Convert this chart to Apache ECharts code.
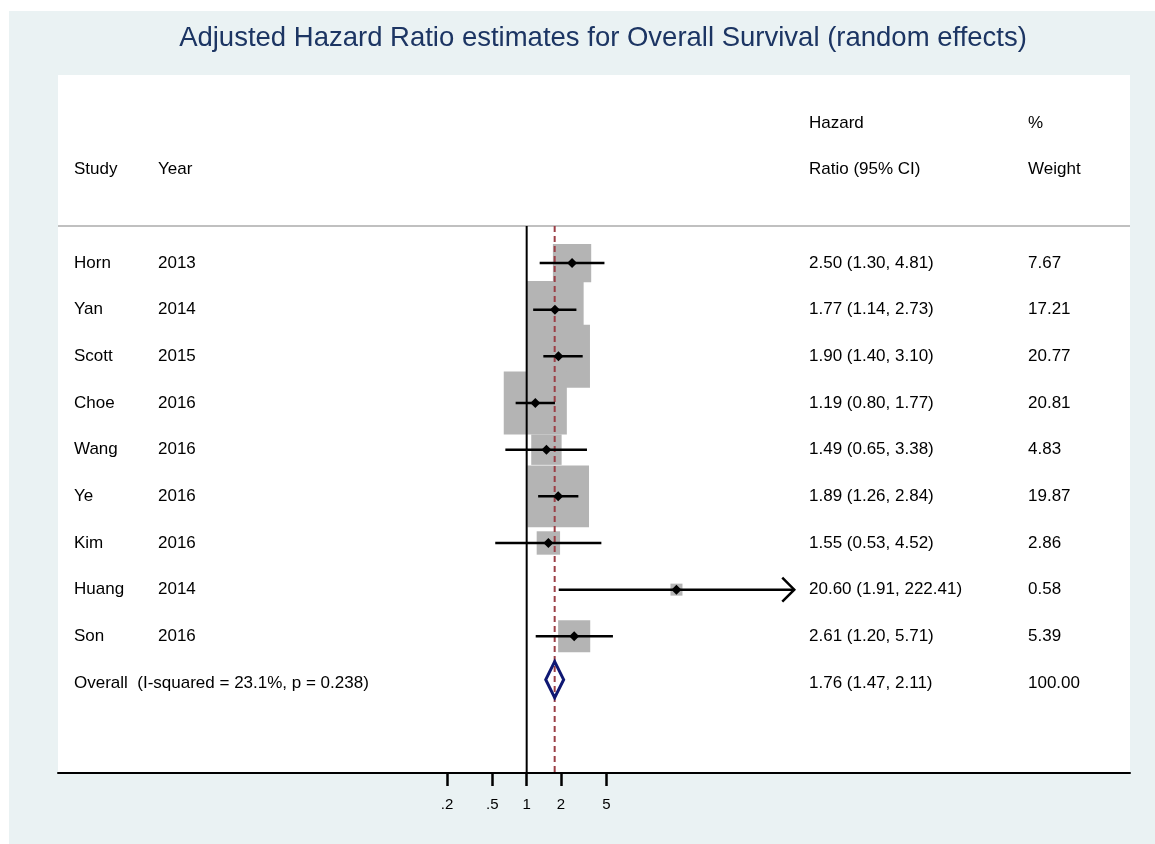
<!DOCTYPE html>
<html>
<head>
<meta charset="utf-8">
<script src="https://cdn.jsdelivr.net/npm/echarts@6/dist/echarts.min.js"></script>
<style>
  html, body { margin: 0; padding: 0; background: #fff; }
  #chart { width: 1155px; height: 844px; }
</style>
</head>
<body>
<div id="chart"></div>
<script>
// study rows
const studies = ['Horn', 'Yan', 'Scott', 'Choe', 'Wang', 'Ye', 'Kim', 'Huang', 'Son'];
const years = [2013, 2014, 2015, 2016, 2016, 2016, 2016, 2014, 2016];
const hr = [2.50, 1.77, 1.90, 1.19, 1.49, 1.89, 1.55, 20.60, 2.61];
const ciLow = [1.30, 1.14, 1.40, 0.80, 0.65, 1.26, 0.53, 1.91, 1.20];
const ciHigh = [4.81, 2.73, 3.10, 1.77, 3.38, 2.84, 4.52, 222.41, 5.71];
const weights = [7.67, 17.21, 20.77, 20.81, 4.83, 19.87, 2.86, 0.58, 5.39];

// pooled estimate
const overallLabel = 'Overall  (I-squared = 23.1%, p = 0.238)';
const overallHr = 1.76;
const overallLow = 1.47;
const overallHigh = 2.11;
const overallWeight = 100.00;

// axis ticks
const tickValues = [0.2, 0.5, 1, 2, 5];
const tickLabels = ['.2', '.5', '1', '2', '5'];

const FONT = '"Liberation Sans", Arial, sans-serif';
const lg = v => Math.log10(v);
const rows = studies.map((s, i) => i + 1);
const overallRow = studies.length + 1;
const sepRow = 0.207;
const yMax = 11.93;

// table text positions (px)
const colStudy = 74, colYear = 158, colHr = 809, colWeight = 1028;

const tableRows = studies.map((s, i) => [
  s, String(years[i]),
  hr[i].toFixed(2) + ' (' + ciLow[i].toFixed(2) + ', ' + ciHigh[i].toFixed(2) + ')',
  weights[i].toFixed(2), i + 1
]);
tableRows.push([overallLabel, '',
  overallHr.toFixed(2) + ' (' + overallLow.toFixed(2) + ', ' + overallHigh.toFixed(2) + ')',
  overallWeight.toFixed(2), overallRow]);

const headerRows = [
  ['', '', 'Hazard', '%', -2],
  ['Study', 'Year', 'Ratio (95% CI)', 'Weight', -1]
];
const allRows = tableRows.concat(headerRows);

function txt(str, x, y) {
  return {
    type: 'text',
    style: { text: str, x: x, y: y, font: '17px ' + FONT, fill: '#000', textVerticalAlign: 'middle' }
  };
}

const chart = echarts.init(document.getElementById('chart'));

const option = {
  backgroundColor: '#fff',
  animation: false,
  graphic: [{
    type: 'rect', z: -10, silent: true,
    shape: { x: 9, y: 11, width: 1146, height: 833 },
    style: { fill: '#eaf2f3' }
  }],
  title: {
    text: 'Adjusted Hazard Ratio estimates for Overall Survival (random effects)',
    left: 598, top: 19, textAlign: 'center',
    textStyle: { fontFamily: FONT, fontSize: 27.5, fontWeight: 'normal', color: '#1c3563' }
  },
  grid: {
    left: 58, right: 25, top: 75, bottom: 71,
    show: true, backgroundColor: '#fff', borderWidth: 0
  },
  xAxis: {
    type: 'value',
    min: -4.111, max: 5.292,
    splitLine: { show: false },
    axisLine: { onZero: false, lineStyle: { color: '#000', width: 2 } },
    axisTick: { customValues: tickValues.map(lg), length: 13, lineStyle: { color: '#000', width: 2.5 } },
    axisLabel: {
      customValues: tickValues.map(lg),
      formatter: v => tickLabels[tickValues.findIndex(t => Math.abs(lg(t) - v) < 1e-6)] || '',
      margin: 24, fontFamily: FONT, fontSize: 15, color: '#000'
    }
  },
  yAxis: { type: 'value', inverse: true, min: -3.03, max: yMax, show: false },
  series: [
    {
      // header separator
      type: 'line', silent: true, symbol: 'none',
      data: [[-4.111, sepRow], [5.292, sepRow]],
      lineStyle: { color: '#c0c0c0', width: 2 }
    },
    {
      // null line
      type: 'line', silent: true, symbol: 'none',
      data: [[lg(1), sepRow], [lg(1), yMax]],
      lineStyle: { color: '#000', width: 2 }, z: 3
    },
    {
      // weight boxes
      type: 'scatter', symbol: 'rect', silent: true,
      data: hr.map((v, i) => [lg(v), rows[i], weights[i]]),
      symbolSize: d => Math.max(12, 13.83 * Math.sqrt(d[2])),
      itemStyle: { color: '#b4b4b4', opacity: 1 }, z: 2
    },
    {
      // pooled line
      type: 'line', silent: true, symbol: 'none',
      data: [[lg(overallHr), sepRow], [lg(overallHr), yMax]],
      lineStyle: { color: '#9b3f46', width: 2, type: [6, 4] }, z: 4
    },
    {
      // confidence intervals
      type: 'custom', silent: true, clip: false, z: 5,
      data: ciLow.map((v, i) => [lg(v), lg(ciHigh[i]), rows[i]]),
      renderItem: (params, api) => {
        const a = api.coord([api.value(0), api.value(2)]);
        const b = api.coord([api.value(1), api.value(2)]);
        const children = [{
          type: 'line', shape: { x1: a[0], y1: a[1], x2: b[0], y2: b[1] },
          style: { stroke: '#000', lineWidth: 2.5 }
        }];
        if (api.value(1) > 2) {
          children.push({
            type: 'polyline',
            shape: { points: [[b[0] - 12, b[1] - 12], [b[0], b[1]], [b[0] - 12, b[1] + 12]] },
            style: { stroke: '#000', lineWidth: 2.5, fill: 'none' }
          });
        }
        return { type: 'group', children: children };
      }
    },
    {
      // point estimates
      type: 'scatter', symbol: 'diamond', symbolSize: 10, silent: true, z: 6,
      data: hr.map((v, i) => [lg(v), rows[i]]),
      itemStyle: { color: '#000', opacity: 1 }
    },
    {
      // overall diamond
      type: 'custom', silent: true, z: 6,
      data: [[lg(overallLow), lg(overallHr), lg(overallHigh), overallRow - 0.07]],
      renderItem: (params, api) => {
        const y = api.value(3);
        const l = api.coord([api.value(0), y]);
        const m = api.coord([api.value(1), y]);
        const r = api.coord([api.value(2), y]);
        return {
          type: 'polygon',
          shape: { points: [l, [m[0], m[1] - 18], r, [m[0], m[1] + 18]] },
          style: { stroke: '#0f1873', lineWidth: 3, fill: 'none' }
        };
      }
    },
    {
      // table text
      type: 'custom', silent: true, clip: false, z: 7,
      data: allRows.map(r => [0, r[4]]),
      renderItem: (params, api) => {
        const r = allRows[params.dataIndex];
        const y = api.coord([0, api.value(1)])[1];
        return {
          type: 'group',
          children: [txt(r[0], colStudy, y), txt(r[1], colYear, y), txt(r[2], colHr, y), txt(r[3], colWeight, y)]
        };
      }
    }
  ]
};

chart.setOption(option);
</script>
</body>
</html>
